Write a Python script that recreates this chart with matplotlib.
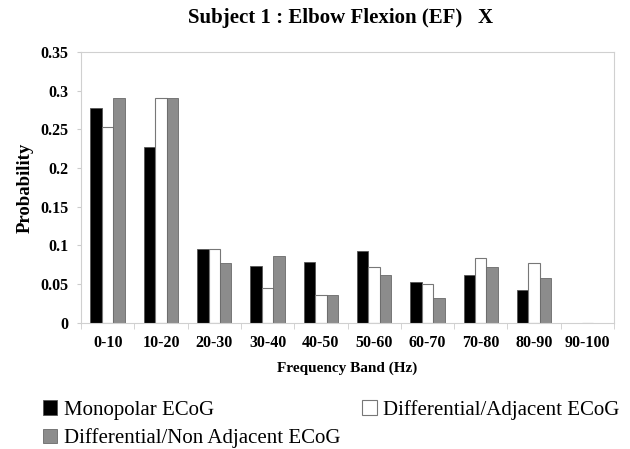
import numpy as np
import matplotlib
matplotlib.use('Agg')
import matplotlib.pyplot as plt

bands = ['0-10', '10-20', '20-30', '30-40', '40-50', '50-60', '60-70', '70-80', '80-90', '90-100']
monopolar = [0.278, 0.227, 0.096, 0.073, 0.078, 0.093, 0.053, 0.062, 0.043, 0.0]
adjacent = [0.253, 0.290, 0.095, 0.045, 0.036, 0.072, 0.050, 0.084, 0.077, 0.0]
non_adjacent = [0.290, 0.290, 0.077, 0.086, 0.036, 0.062, 0.032, 0.072, 0.058, 0.0]

plt.rcParams['font.family'] = ['Liberation Serif', 'DejaVu Serif']

fig = plt.figure(figsize=(6.3, 4.49), dpi=100)
ax = fig.add_axes([0.1286, 0.281, 0.846, 0.603])

x = np.arange(len(bands))
w = 0.215
b1 = ax.bar(x - w, monopolar, w, color='black', edgecolor='#555555', linewidth=0.6)
b2 = ax.bar(x, adjacent, w, color='white', edgecolor='#777777', linewidth=0.8)
b3 = ax.bar(x + w, non_adjacent, w, color='#8c8c8c', edgecolor='#6a6a6a', linewidth=0.6)

ax.set_xlim(-0.5, len(bands) - 0.5)
ax.set_ylim(0, 0.35)
ax.set_yticks([0, 0.05, 0.1, 0.15, 0.2, 0.25, 0.3, 0.35])
ax.set_yticklabels(['0', '0.05', '0.1', '0.15', '0.2', '0.25', '0.3', '0.35'],
                   fontweight='bold', fontsize=11.5)
ax.set_xticks(x)
ax.set_xticklabels(bands, fontweight='bold', fontsize=11.5)
ax.set_xticks(np.arange(len(bands) + 1) - 0.5, minor=True)
ax.tick_params(axis='x', which='major', length=0, pad=9)
ax.tick_params(axis='x', which='minor', length=4, color='#cccccc')
ax.tick_params(axis='y', length=3, color='#cccccc', pad=6)
for s in ax.spines.values():
    s.set_color('#d0d0d0')
    s.set_linewidth(0.8)

ax.set_xlabel('Frequency Band (Hz)', fontweight='bold', fontsize=11, labelpad=7)
ax.set_ylabel('Probability', fontweight='bold', fontsize=13.5, labelpad=5)
fig.text(0.54, 0.983, 'Subject 1 : Elbow Flexion (EF)   X', fontweight='bold',
         fontsize=15, ha='center', va='top')

fig.legend([b1, b3, b2],
           ['Monopolar ECoG', 'Differential/Non Adjacent ECoG', 'Differential/Adjacent ECoG'],
           ncol=2, loc='upper left', bbox_to_anchor=(0.068, 0.11), frameon=False,
           fontsize=15, handlelength=0.7, handleheight=0.7, handletextpad=0.3,
           columnspacing=1.05, labelspacing=0.42, borderaxespad=0, borderpad=0)

fig.savefig('out.png', dpi=100)
